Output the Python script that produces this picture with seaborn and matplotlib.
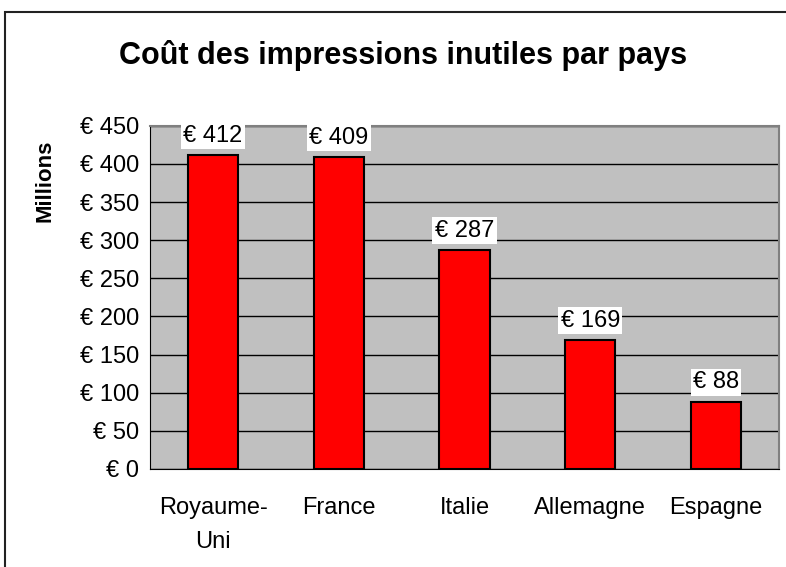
import matplotlib
matplotlib.use("Agg")
import matplotlib.pyplot as plt
import seaborn as sns
import pandas as pd
from matplotlib.patches import Rectangle

# Données (millions d'euros)
pays = ["Royaume-\nUni", "France", "Italie", "Allemagne", "Espagne"]
cout = [412, 409, 287, 169, 88]
graduations = [0, 50, 100, 150, 200, 250, 300, 350, 400, 450]

df = pd.DataFrame({"pays": pays, "cout": cout})

sns.set_style("white")
plt.rcParams["font.family"] = ["Liberation Sans", "DejaVu Sans"]
plt.rcParams["text.color"] = "black"
plt.rcParams["axes.labelcolor"] = "black"
plt.rcParams["xtick.color"] = "black"
plt.rcParams["ytick.color"] = "black"

fig = plt.figure(figsize=(7.86, 5.67), dpi=100)
ax = fig.add_axes([0.191, 0.173, 0.8, 0.605])

# cadre extérieur du graphique (coupé à droite et en bas)
fig.patches.append(Rectangle((5 / 786, -0.05), 1.1, 1 - 12 / 567 + 0.05,
                             transform=fig.transFigure, fill=False,
                             edgecolor="#222222", linewidth=1.5))

ax.set_facecolor("#C0C0C0")
sns.barplot(data=df, x="pays", y="cout", color="#FF0000", saturation=1,
            edgecolor="black", linewidth=1.5, width=0.4, ax=ax, zorder=3)

ax.set_ylim(0, 450)
ax.set_xlim(-0.5, len(pays) - 0.5)
ax.set_yticks(graduations)
ax.set_yticklabels([f"€ {v}" for v in graduations], fontsize=17)
ax.yaxis.grid(True, color="black", linewidth=1, zorder=0)
ax.set_axisbelow(True)

# graduations x entre les catégories
ax.set_xticks([i - 0.5 for i in range(len(pays) + 1)], minor=False)
ax.set_xticklabels([])
ax.set_xticks(range(len(pays)), minor=True)
ax.set_xticklabels(pays, minor=True, fontsize=17, linespacing=1.75)
ax.tick_params(axis="x", which="major", length=6, width=1, color="black", direction="out")
ax.tick_params(axis="x", which="minor", length=0, pad=20)
ax.tick_params(axis="y", length=4, width=1, color="black", direction="out", pad=4)

for s in ["top", "right"]:
    ax.spines[s].set_color("#808080")
    ax.spines[s].set_linewidth(1.5)
ax.spines["left"].set_color("black")
ax.spines["bottom"].set_color("black")

for i, v in enumerate(cout):
    ax.annotate(f"€ {v}", (i, v), xytext=(0, 6), textcoords="offset points",
                ha="center", va="bottom", fontsize=17, zorder=5,
                bbox=dict(boxstyle="square,pad=0.1", facecolor="white", edgecolor="none"))

ax.set_xlabel("")
ax.set_ylabel("Millions", fontsize=16, fontweight="bold")
ax.yaxis.set_label_coords(-0.15, 0.84)
fig.suptitle("Coût des impressions inutiles par pays", fontsize=22,
             fontweight="bold", x=0.513, y=0.93)

fig.savefig("out.png", dpi=100)
